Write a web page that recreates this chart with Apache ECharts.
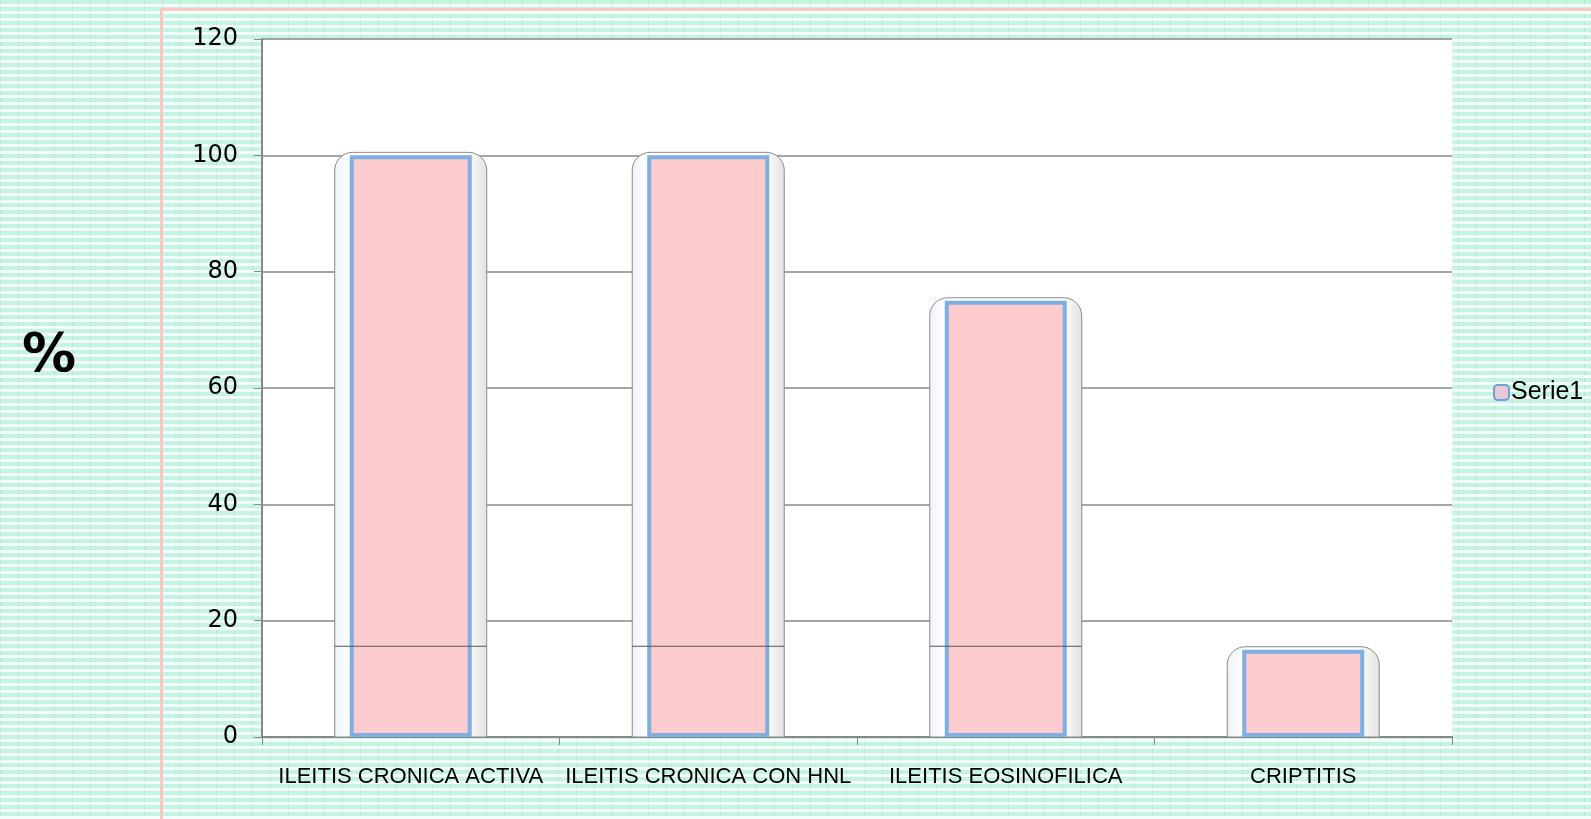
<!DOCTYPE html>
<html lang="es">
<head>
    <meta charset="UTF-8">
    <title>Serie1</title>
    <script src="https://cdn.jsdelivr.net/npm/echarts@6/dist/echarts.min.js"></script>
    <style>
        html, body { margin: 0; padding: 0; width: 1591px; height: 819px; overflow: hidden; }
        body {
            background-color: #c4f5e1;
            background-image:
                repeating-linear-gradient(0deg, rgba(255,255,255,0.85) 0 3px, transparent 3px 7px),
                repeating-linear-gradient(90deg, rgba(170,190,185,0.35) 0 1px, transparent 1px 18px);
        }
        #frame {
            position: absolute; left: 160px; top: 8px; width: 1500px; height: 900px;
            border: 3px solid #fbc6c6; box-sizing: border-box;
        }
        #chart { position: absolute; left: 0; top: 0; width: 1591px; height: 819px; }
    </style>
</head>
<body>
    <div id="frame"></div>
    <div id="chart"></div>

    <script>
        // categorías y valores
        const categories = ['ILEITIS CRONICA ACTIVA', 'ILEITIS CRONICA CON HNL', 'ILEITIS EOSINOFILICA', 'CRIPTITIS'];
        const serie1 = [100, 100, 75, 15];
        // línea suelta que aparece sobre las primeras barras
        const strayLine = [15.6, 15.6, 15.6, null];
        const yTicks = { min: 0, max: 120, interval: 20 };

        const chart = echarts.init(document.getElementById('chart'));

        const option = {
            backgroundColor: 'transparent',
            animation: false,
            textStyle: { fontFamily: 'Liberation Sans' },
            grid: { left: 262, right: 139, top: 39, bottom: 82, backgroundColor: '#fff', show: true, borderWidth: 0 },
            graphic: [{
                type: 'text', left: 22, top: 330,
                style: { text: '%', fontSize: 54, fontWeight: 'bold', fontFamily: 'DejaVu Sans', fill: '#000' }
            }],
            legend: {
                data: ['Serie1'],
                left: 1488, top: 375, orient: 'vertical',
                itemWidth: 15, itemHeight: 15, itemGap: 5,
                textStyle: { fontSize: 25, color: '#000', padding: [0, 0, 0, -3] },
                itemStyle: { color: '#e7cad6', borderColor: '#6d9fdb', borderWidth: 2 }
            },
            xAxis: {
                type: 'category',
                data: categories,
                axisLine: { lineStyle: { color: '#888', width: 2 } },
                axisTick: { show: true, length: 8, lineStyle: { color: '#888', width: 1 } },
                axisLabel: { fontSize: 22, color: '#000', margin: 29, interval: 0 }
            },
            yAxis: {
                type: 'value',
                min: yTicks.min, max: yTicks.max, interval: yTicks.interval,
                axisLine: { show: true, lineStyle: { color: '#888', width: 2 } },
                axisTick: { show: true, length: 8, lineStyle: { color: '#888' } },
                axisLabel: { fontSize: 24, color: '#000', margin: 24, fontFamily: 'DejaVu Sans' },
                splitLine: { lineStyle: { color: '#888', width: 1.5 } }
            },
            series: [
                {
                    // sombra redondeada detrás de cada barra
                    name: 'fondo',
                    type: 'custom',
                    silent: true,
                    data: serie1.map((v, i) => [i, v]),
                    renderItem: (params, api) => {
                        const top = api.coord([api.value(0), api.value(1)]);
                        const base = api.coord([api.value(0), 0]);
                        const w = 152;
                        return {
                            type: 'rect',
                            shape: { x: top[0] - w / 2, y: top[1] - 3, width: w, height: base[1] - top[1] + 3, r: [18, 18, 0, 0] },
                            style: {
                                fill: {
                                    type: 'linear', x: 0, y: 0, x2: 1, y2: 0,
                                    colorStops: [
                                        { offset: 0, color: '#eef3fa' },
                                        { offset: 0.1, color: '#ffffff' },
                                        { offset: 0.86, color: '#ffffff' },
                                        { offset: 1, color: '#e2e2e2' }
                                    ]
                                },
                                stroke: '#8a8a8a', lineWidth: 1
                            }
                        };
                    },
                    z: 2
                },
                {
                    name: 'Serie1',
                    type: 'bar',
                    data: serie1,
                    barWidth: 122,
                    itemStyle: {
                        color: '#fccbce',
                        borderColor: '#7faee2',
                        borderWidth: 4
                    },
                    z: 3
                },
                {
                    name: 'linea',
                    type: 'custom',
                    silent: true,
                    data: strayLine.map((v, i) => [i, v]),
                    renderItem: (params, api) => {
                        const v = api.value(1);
                        if (v == null || isNaN(v)) return null;
                        const p = api.coord([api.value(0), v]);
                        return {
                            type: 'line',
                            shape: { x1: p[0] - 76, y1: p[1], x2: p[0] + 76, y2: p[1] },
                            style: { stroke: '#555', lineWidth: 1 }
                        };
                    },
                    z: 4
                }
            ]
        };

        chart.setOption(option);
    </script>
</body>
</html>
